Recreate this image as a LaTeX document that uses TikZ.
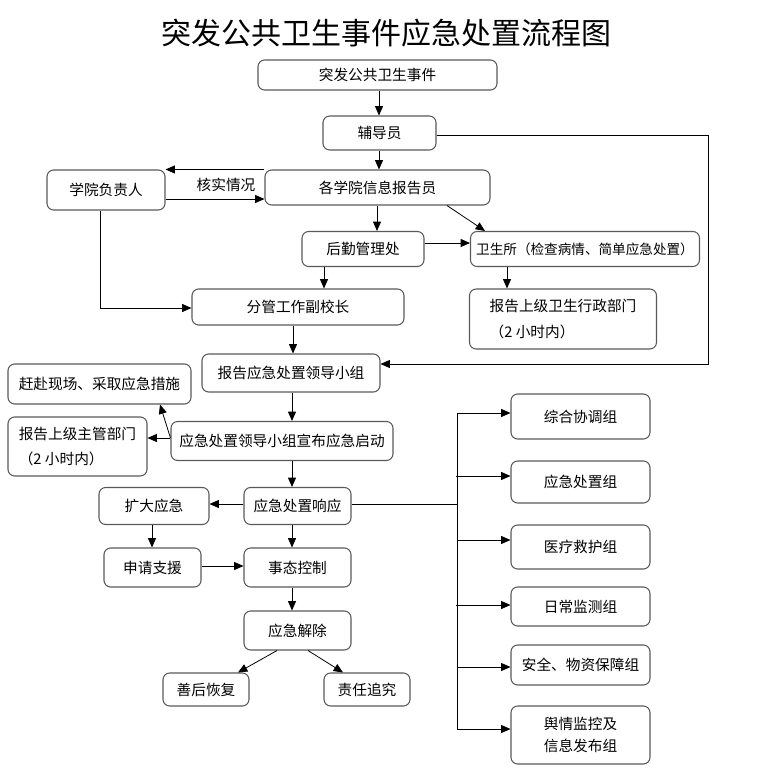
\documentclass[tikz,border=0pt]{standalone}
\usepackage{fontspec}
\setmainfont{Noto Sans CJK SC}
\usetikzlibrary{arrows.meta}
\tikzset{
  box/.style={draw=black!65, line width=0.8pt, rounded corners=5pt, align=center,
    font=\fontsize{11}{16}\selectfont, inner sep=1pt},
  sz/.style 2 args={minimum width=#1*0.75pt, minimum height=#2*0.75pt},
  arr/.style={-{Triangle[length=7pt,width=6pt]}, line width=0.6pt},
  ln/.style={line width=0.6pt},
}
\begin{document}
\begin{tikzpicture}[x=0.75pt, y=-0.75pt]
    \useasboundingbox (0,0) rectangle (763,774);
    \node[font=\fontsize{22.5}{26}\selectfont] (title) at (386,33) {突发公共卫生事件应急处置流程图};
    % Upper part
    \node[box, sz={239}{30}] (sj) at (377.5,75) {突发公共卫生事件};
    \node[box, sz={113}{34}] (fdy) at (379.5,133) {辅导员};
    \node[box, sz={118}{40}] (fzr) at (106,190) {学院负责人};
    \node[box, sz={225}{35}] (xxbg) at (377.5,187.5) {各学院信息报告员};
    \node[font=\fontsize{11}{14}\selectfont] (hs) at (226,185) {核实情况};
    \node[box, sz={122}{35}] (hq) at (363,249) {后勤管理处};
    \node[box, sz={229}{35}, font=\fontsize{10.2}{14}\selectfont] (wss) at (585,249) {卫生所（检查病情、简单应急处置）};
    \node[box, sz={212}{36}] (fxz) at (298,307) {分管工作副校长};
    \node[box, sz={187}{60}, align=left, font=\fontsize{11}{19}\selectfont] (bwz) at (563,319) {报告上级卫生行政部门\\（2 小时内）};
    \node[box, sz={178}{38}] (bld) at (291,373) {报告应急处置领导小组};
    % Middle part
    \node[box, sz={183}{40}] (gf) at (99.5,384) {赶赴现场、采取应急措施};
    \node[box, sz={139}{59}, align=left, font=\fontsize{11}{19}\selectfont] (bzg) at (77.5,446.5) {报告上级主管部门\\（2 小时内）};
    \node[box, sz={222}{39}] (qd) at (282,441) {应急处置领导小组宣布应急启动};
    \node[box, sz={107}{37}] (xy) at (297.5,506) {应急处置响应};
    \node[box, sz={110}{37}] (kd) at (154,506) {扩大应急};
    \node[box, sz={97}{39}] (sq) at (152.5,567.5) {申请支援};
    \node[box, sz={107}{39}] (kz) at (297.5,567.5) {事态控制};
    \node[box, sz={107}{39}] (jc) at (297.5,630.5) {应急解除};
    \node[box, sz={86}{33}] (sh) at (206,689.5) {善后恢复};
    \node[box, sz={86}{33}] (zr) at (367,689.5) {责任追究};
    % Working groups
    \node[box, sz={139}{45}] (g1) at (580.5,416.5) {综合协调组};
    \node[box, sz={139}{42}] (g2) at (580.5,482) {应急处置组};
    \node[box, sz={139}{44}] (g3) at (580.5,547) {医疗救护组};
    \node[box, sz={139}{39}] (g4) at (580.5,606.5) {日常监测组};
    \node[box, sz={139}{40}] (g5) at (580.5,665) {安全、物资保障组};
    \node[box, sz={139}{58}, font=\fontsize{11}{16}\selectfont] (g6) at (580.5,735) {舆情监控及\\信息发布组};
    % Connectors
    \draw[arr] (sj.south -| 379,0) -- (fdy.north -| 379,0);
    \draw[arr] (fdy.south -| 379,0) -- (xxbg.north -| 379,0);
    \draw[arr] (xxbg.north west) -- (fzr.east |- xxbg.north);
    \draw[arr] (fzr.east |- 0,199) -- (xxbg.west |- 0,199);
    \draw[arr] (xxbg.south -| 377,0) -- (hq.north -| 377,0);
    \draw[arr] (xxbg.south -| 447,0) -- (wss.north -| 485,0);
    \draw[arr] (hq.east |- 0,243) -- (wss.west |- 0,243);
    \draw[arr] (hq.south -| 324,0) -- (fxz.north -| 324,0);
    \draw[arr] (wss.south -| 507,0) -- (bwz.north -| 507,0);
    \draw[arr] (fzr.south -| 100,0) |- (fxz.west |- 0,308);
    \draw[arr] (fdy.east |- 0,135) -| (708,364) -- (bld.east |- 0,364);
    \draw[arr] (fxz.south -| 293,0) -- (bld.north -| 293,0);
    \draw[arr] (bld.south -| 292,0) -- (qd.north -| 292,0);
    \draw[arr] (qd.west |- 0,438) -- (gf.south -| 160,0);
    \draw[arr] (qd.west |- 0,438) -- (bzg.east |- 0,438);
    \draw[arr] (qd.south -| 292,0) -- (xy.north -| 292,0);
    \draw[arr] (xy.west |- 0,504) -- (kd.east |- 0,504);
    \draw[arr] (kd.south -| 152,0) -- (sq.north -| 152,0);
    \draw[arr] (xy.south -| 292,0) -- (kz.north -| 292,0);
    \draw[arr] (sq.east |- 0,566) -- (kz.west |- 0,566);
    \draw[arr] (kz.south -| 292,0) -- (jc.north -| 292,0);
    \draw[arr] (jc.south -| 277,0) -- (sh.north -| 238,0);
    \draw[arr] (jc.south -| 308,0) -- (zr.north -| 343,0);
    % Bus to the groups
    \coordinate (bt) at (457,413);
    \coordinate (bb) at (457,729);
    \draw[ln] (xy.east |- 0,504) -- (457,504);
    \draw[ln] (bt) -- (bb);
    \draw[arr] (bt) -- (g1.west |- bt);
    \draw[arr] (456,476) -- (g2.west |- 0,476);
    \draw[arr] (bt |- 0,540) -- (g3.west |- 0,540);
    \draw[arr] (456,605) -- (g4.west |- 0,605);
    \draw[arr] (bt |- 0,667) -- (g5.west |- 0,667);
    \draw[arr] (bb) -- (g6.west |- bb);
\end{tikzpicture}
\end{document}
